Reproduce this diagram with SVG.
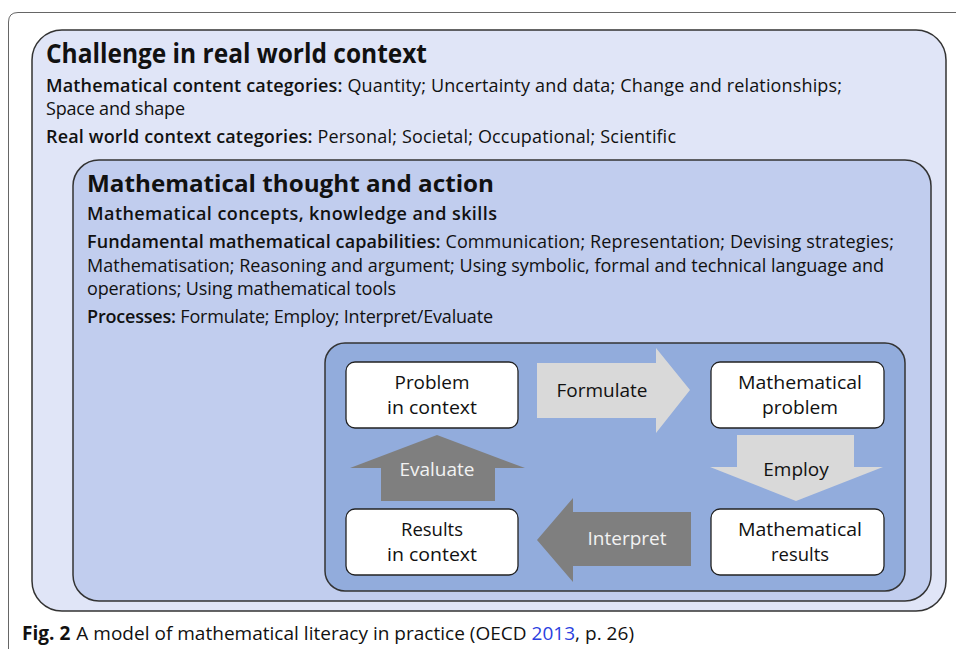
<svg xmlns="http://www.w3.org/2000/svg" width="956" height="649" viewBox="0 0 956 649">
  <style>
    text { font-family: "Open Sans", "Noto Sans", sans-serif; fill: #111; }
    .h1 { font-size: 26px; font-weight: 700; }
    .h2 { font-size: 24px; font-weight: 700; }
    .t { font-size: 18px; font-weight: 400; }
    .b { font-weight: 600; }
    .node rect { fill: #ffffff; stroke: #222; stroke-width: 1.3; }
    .node text { font-size: 18px; text-anchor: middle; }
    .light { fill: #d9d9d9; }
    .dark { fill: #7f7f7f; }
    .lbl { font-size: 19px; text-anchor: middle; }
    .lbl-w { font-size: 19px; text-anchor: middle; fill: #f2f2f2; }
    .cap { font-family: "Liberation Sans Narrow", "Open Sans", sans-serif; font-size: 19px; }
  </style>

  <rect width="956" height="649" fill="#ffffff"/>

  <!-- figure frame -->
  <path d="M 8.5 649 L 8.5 22 Q 8.5 12.5 18 12.5 L 956 12.5" fill="none" stroke="#666" stroke-width="1"/>

  <!-- outer context container -->
  <g id="real-world-context">
    <rect x="32" y="30" width="914" height="581" rx="30" fill="#e0e5f7" stroke="#333" stroke-width="1.5"/>
    <text class="h1" x="46" y="63" textLength="381" lengthAdjust="spacingAndGlyphs">Challenge in real world context</text>
    <text class="t" x="46" y="92" textLength="796"><tspan class="b">Mathematical content categories:</tspan> Quantity; Uncertainty and data; Change and relationships;</text>
    <text class="t" x="46" y="115" textLength="139">Space and shape</text>
    <text class="t" x="46" y="143" textLength="630"><tspan class="b">Real world context categories:</tspan> Personal; Societal; Occupational; Scientific</text>
  </g>

  <!-- mathematical thought container -->
  <g id="thought-and-action">
    <rect x="73" y="160" width="858" height="441" rx="26" fill="#c1cdee" stroke="#333" stroke-width="1.5"/>
    <text class="h2" x="87" y="192" textLength="407" lengthAdjust="spacingAndGlyphs">Mathematical thought and action</text>
    <text class="t b" x="87" y="220" textLength="410">Mathematical concepts, knowledge and skills</text>
    <text class="t" x="87" y="248" textLength="807"><tspan class="b">Fundamental mathematical capabilities:</tspan> Communication; Representation; Devising strategies;</text>
    <text class="t" x="87" y="272" textLength="797">Mathematisation; Reasoning and argument; Using symbolic, formal and technical language and</text>
    <text class="t" x="87" y="295" textLength="309">operations; Using mathematical tools</text>
    <text class="t" x="87" y="323" textLength="406"><tspan class="b">Processes:</tspan> Formulate; Employ; Interpret/Evaluate</text>
  </g>

  <!-- process cycle panel -->
  <g id="cycle-panel">
    <rect x="325" y="343" width="580" height="248" rx="20" fill="#92acdc" stroke="#333" stroke-width="1.5"/>
  </g>

  <!-- connectors: block arrows between stages -->
  <g id="connectors">
    <g id="formulate">
      <polygon class="light" points="537,363 656,363 656,348 690,390 656,433 656,418 537,418"/>
      <text class="lbl" x="602" y="397">Formulate</text>
    </g>
    <g id="employ">
      <polygon class="light" points="737,435 854,435 854,467 883,467 796,501 710,467 737,467"/>
      <text class="lbl" x="796" y="476">Employ</text>
    </g>
    <g id="interpret">
      <polygon class="dark" points="691,512 691,566 573,566 573,582 537,540 573,498 573,512"/>
      <text class="lbl-w" x="627" y="545">Interpret</text>
    </g>
    <g id="evaluate">
      <polygon class="dark" points="381,501 381,468 350,468 437,435 525,468 495,468 495,501"/>
      <text class="lbl-w" x="437" y="476">Evaluate</text>
    </g>
  </g>

  <!-- stage nodes: two-line labels, 24.5px line pitch -->
  <g id="problem-in-context" class="node">
    <rect x="346" y="362" width="172" height="66" rx="9"/>
    <text x="432" y="389" textLength="75" lengthAdjust="spacingAndGlyphs">Problem</text>
    <text x="432" y="413.5" textLength="90" lengthAdjust="spacingAndGlyphs">in context</text>
  </g>
  <g id="mathematical-problem" class="node">
    <rect x="711" y="362" width="173" height="66" rx="9"/>
    <text x="800" y="389" textLength="124" lengthAdjust="spacingAndGlyphs">Mathematical</text>
    <text x="800" y="413.5" textLength="76" lengthAdjust="spacingAndGlyphs">problem</text>
  </g>
  <g id="results-in-context" class="node">
    <rect x="346" y="509" width="172" height="66" rx="9"/>
    <text x="432" y="536" textLength="62" lengthAdjust="spacingAndGlyphs">Results</text>
    <text x="432" y="560.5" textLength="90" lengthAdjust="spacingAndGlyphs">in context</text>
  </g>
  <g id="mathematical-results" class="node">
    <rect x="711" y="509" width="173" height="66" rx="9"/>
    <text x="800" y="536" textLength="124" lengthAdjust="spacingAndGlyphs">Mathematical</text>
    <text x="800" y="560.5" textLength="58" lengthAdjust="spacingAndGlyphs">results</text>
  </g>

  <!-- caption -->
  <text class="cap" x="22" y="640" textLength="612"><tspan font-weight="700">Fig. 2</tspan><tspan dx="6">A model of mathematical literacy in practice (OECD </tspan><tspan fill="#2b3fe0">2013</tspan>, p. 26)</text>
</svg>
